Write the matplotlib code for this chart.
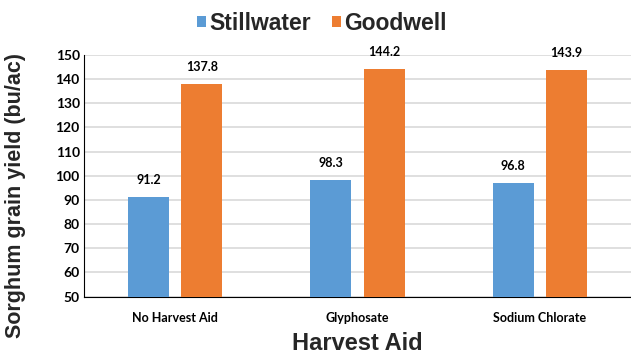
import matplotlib
matplotlib.use("Agg")
import matplotlib.pyplot as plt
import numpy as np


CATEGORIES = ["No Harvest Aid", "Glyphosate", "Sodium Chlorate"]
STILLWATER = [91.2, 98.3, 96.8]
GOODWELL = [137.8, 144.2, 143.9]
Y_TICKS = [50, 60, 70, 80, 90, 100, 110, 120, 130, 140, 150]

BLUE = "#5B9BD5"
ORANGE = "#ED7D31"
TEXT = "#262626"

fig = plt.figure(figsize=(6.31, 3.54), dpi=100)
ax = fig.add_axes([0.133, 0.162, 0.867, 0.683])

x = np.arange(len(CATEGORIES))
w = 0.224
off = 0.146

b1 = ax.bar(x - off, STILLWATER, w, color=BLUE, label="Stillwater", zorder=3)
b2 = ax.bar(x + off, GOODWELL, w, color=ORANGE, label="Goodwell", zorder=3)

for bars, vals in ((b1, STILLWATER), (b2, GOODWELL)):
  for bar, v in zip(bars, vals):
    ax.annotate(
      f"{v:.1f}",
      (bar.get_x() + bar.get_width() / 2, v),
      xytext=(0, 8), textcoords="offset points",
      ha="center", va="bottom",
      fontsize=9, fontweight="bold", family="Lato",
    )

ax.set_xlim(-0.5, 2.5)
ax.set_ylim(50, 150)
ax.set_yticks(Y_TICKS)
ax.set_xticks(x)
ax.set_xticklabels(CATEGORIES, fontsize=9, fontweight="bold", family="Lato")
for lbl in ax.get_yticklabels():
  lbl.set_fontsize(10)
  lbl.set_fontweight("bold")
  lbl.set_family("Lato")
ax.tick_params(axis="x", length=0, pad=11)
ax.tick_params(axis="y", length=0, pad=3)

ax.grid(axis="y", color="#D9D9D9", linewidth=1.2, zorder=0)
ax.spines["top"].set_visible(False)
ax.spines["right"].set_visible(False)
ax.spines["left"].set_color("black")
ax.spines["bottom"].set_color("black")

ax.set_xlabel("Harvest Aid", fontsize=17, fontweight="bold",
              family="Liberation Sans", color=TEXT, labelpad=6)
ax.set_ylabel("Sorghum grain yield (bu/ac)", fontsize=15.5, fontweight="bold",
              family="Liberation Sans", color=TEXT)
ax.yaxis.set_label_coords(-0.105, 0.42)

leg = fig.legend(
  loc="upper center", bbox_to_anchor=(0.51, 1.025), ncol=2, frameon=False,
  prop={"family": "Liberation Sans", "weight": "bold", "size": 16.5},
  handlelength=0.4, handleheight=0.4, handletextpad=0.15, columnspacing=0.9,
)
for t in leg.get_texts():
  t.set_color(TEXT)

fig.savefig("out.png", dpi=100)
